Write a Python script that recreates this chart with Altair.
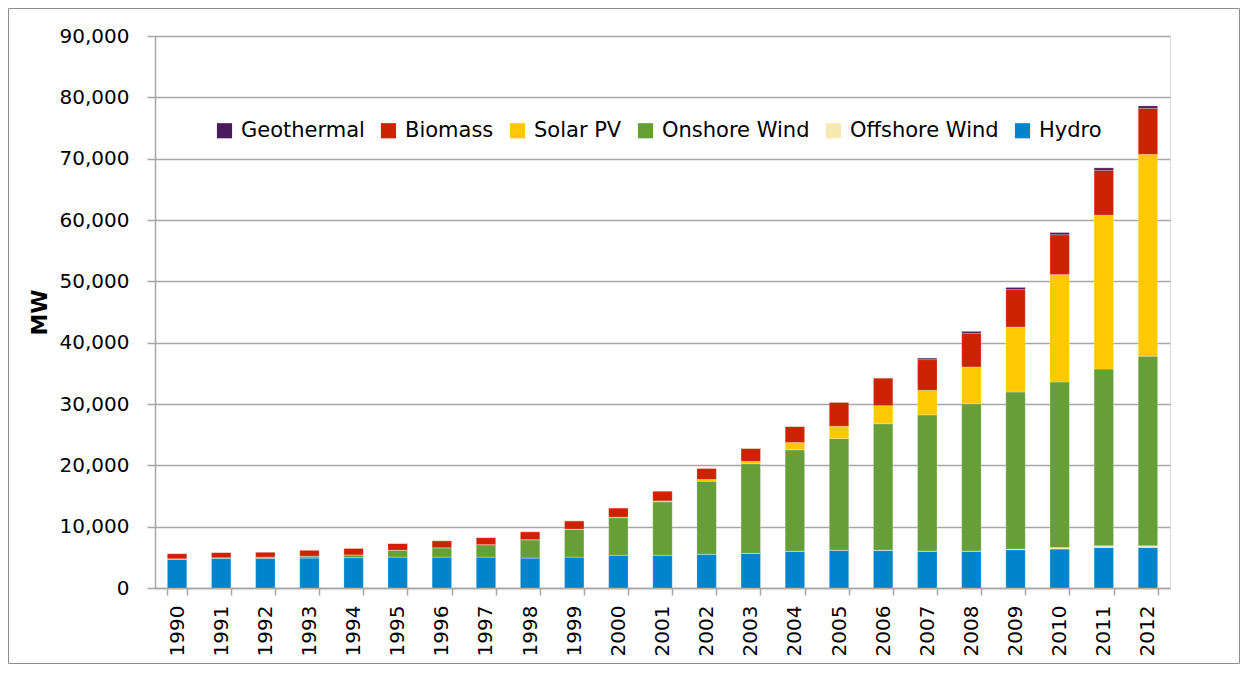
import altair as alt
import pandas as pd

years = [str(y) for y in range(1990, 2013)]
series_names = ["Hydro", "Offshore Wind", "Onshore Wind", "Solar PV", "Biomass", "Geothermal"]

hydro = [4700, 4850, 4850, 4900, 4950, 5050, 5050, 5050, 4900, 5050, 5350, 5350,
         5500, 5650, 6000, 6150, 6150, 6000, 6000, 6250, 6350, 6600, 6600]
offshore = [0, 0, 0, 0, 0, 0, 0, 0, 0, 0, 0, 0,
            10, 10, 20, 20, 30, 30, 40, 100, 250, 300, 300]
onshore = [60, 100, 200, 300, 450, 1100, 1500, 2000, 2950, 4500, 6100, 8700,
           11900, 14600, 16500, 18200, 20600, 22200, 24000, 25600, 27000, 28800, 30900]
solar = [0, 0, 0, 0, 0, 10, 10, 20, 30, 50, 100, 150,
         300, 400, 1200, 2000, 2950, 4000, 6000, 10600, 17500, 25100, 32900]
biomass = [850, 850, 800, 970, 1070, 1100, 1150, 1150, 1300, 1350, 1500, 1600,
           1800, 2100, 2600, 3900, 4500, 5000, 5500, 6100, 6500, 7300, 7500]
geothermal = [0, 0, 0, 0, 0, 0, 0, 0, 0, 0, 0, 0,
              0, 0, 10, 10, 20, 250, 300, 350, 350, 400, 400]

legend_order = ["Geothermal", "Biomass", "Solar PV", "Onshore Wind", "Offshore Wind", "Hydro"]
legend_colors = ["#4B1C5C", "#CC2200", "#FFC800", "#669E38", "#F8E8B2", "#0084CC"]

values = [hydro, offshore, onshore, solar, biomass, geothermal]
rows = []
for si, (name, vals) in enumerate(zip(series_names, values)):
    for y, v in zip(years, vals):
        rows.append({"year": y, "series": name, "MW": v, "stack_order": si})
df = pd.DataFrame(rows)

FONT = "DejaVu Sans"
GRID = "#A6A6A6"

bars = alt.Chart(df).mark_bar(stroke="white", strokeWidth=0.4, strokeOpacity=0.6).encode(
    x=alt.X("year:O", title=None, sort=years,
            scale=alt.Scale(paddingInner=0.56, paddingOuter=0.28),
            axis=alt.Axis(labelAngle=-90, tickBand="extent", labelFontSize=20,
                          labelFont=FONT, labelColor="black", tickSize=7,
                          labelPadding=10, domainColor=GRID, domainWidth=1.5,
                          tickColor=GRID, tickWidth=1.5, grid=False)),
    y=alt.Y("MW:Q", title="MW", stack="zero",
            scale=alt.Scale(domain=[0, 90000], nice=False),
            axis=alt.Axis(values=list(range(0, 90001, 10000)), format=",d",
                          labelFontSize=20, labelFont=FONT, labelColor="black",
                          tickSize=8, labelPadding=18, tickColor=GRID, tickWidth=1.5,
                          domainColor=GRID, domainWidth=1.5, gridColor=GRID,
                          gridWidth=1.5, titleFontSize=22, titleFont=FONT,
                          titleFontWeight="bold", titleColor="black", titlePadding=8)),
    color=alt.Color("series:N", scale=alt.Scale(domain=legend_order, range=legend_colors),
                    legend=alt.Legend(title=None, orient="none", legendX=59, legendY=84,
                                      direction="horizontal", columns=6,
                                      symbolType="square", symbolSize=230,
                                      symbolStrokeWidth=0, labelFontSize=21,
                                      labelFont=FONT, labelColor="black",
                                      labelOffset=6, columnPadding=13,
                                      symbolOpacity=1, labelLimit=300)),
    order=alt.Order("stack_order:Q", sort="ascending"),
)

frame = alt.Chart(pd.DataFrame({"k": [0]})).mark_rect(
    fill=None, stroke="#8C8C8C", strokeWidth=1, clip=False
).encode(
    x=alt.value(-146.5), x2=alt.value(1084.5),
    y=alt.value(-27.5), y2=alt.value(627.5),
)

chart = alt.layer(bars, frame).properties(
    width=1015, height=552,
    autosize=alt.AutoSizeParams(type="none"),
    padding={"left": 147, "top": 28, "right": 70, "bottom": 76},
).configure_view(stroke=None).configure(background="white")

chart.save("out.html", embed_options={"renderer": "svg", "actions": False})
